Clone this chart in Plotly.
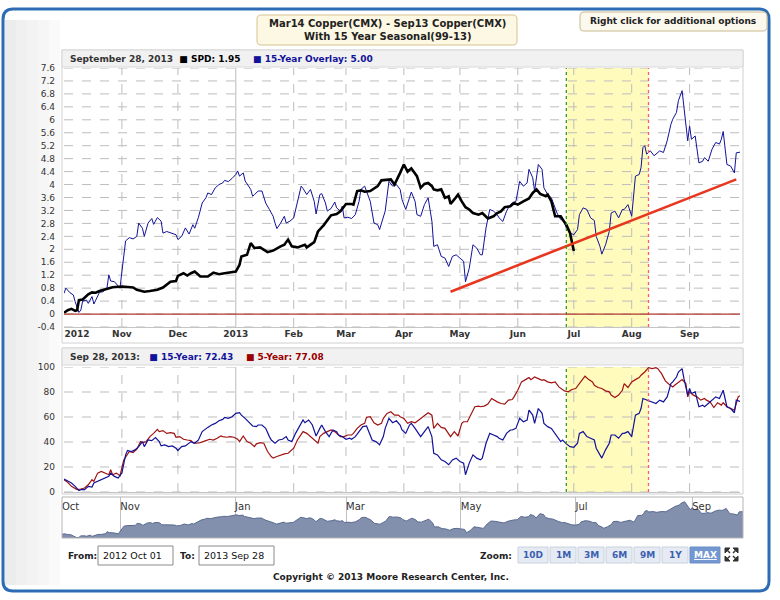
import pandas as pd
import plotly.graph_objects as go

W, H = 780, 600
START = pd.Timestamp("2012-10-01")
END = pd.Timestamp("2013-09-28")

# --- data (days counted from 2012-10-01) ---
# Mar14 - Sep13 copper spread (black)
spd_days = [0, 2, 4, 6, 7, 8, 10, 13, 15, 17,
            19, 23, 26, 31, 34, 37, 39, 43, 46, 50,
            53, 55, 57, 60, 61, 64, 66, 68, 70, 73,
            77, 80, 83, 86, 89, 92, 94, 95, 98, 100,
            102, 105, 109, 112, 116, 118, 120, 122, 125, 129,
            130, 134, 136, 139, 143, 146, 148, 151, 154, 155,
            157, 159, 161, 164, 168, 170, 175, 177, 180, 182,
            184, 186, 187, 189, 191, 193, 195, 197, 198, 200,
            202, 204, 206, 207, 209, 211, 213, 215, 217, 219,
            222, 224, 227, 230, 232, 234, 236, 239, 241, 243,
            246, 249, 251, 253, 255, 258, 259, 261, 263, 266,
            267, 269, 271, 272, 273]
spd_vals = [0.04, 0.12, 0.16, 0.10, 0.12, 0.43, 0.45, 0.61, 0.67, 0.66,
            0.71, 0.79, 0.83, 0.85, 0.83, 0.82, 0.75, 0.69, 0.71, 0.75,
            0.82, 0.90, 1.00, 1.02, 1.18, 1.26, 1.19, 1.26, 1.31, 1.16,
            1.16, 1.28, 1.23, 1.26, 1.29, 1.31, 1.52, 1.78, 1.83, 2.19,
            2.04, 2.06, 1.91, 1.96, 2.09, 2.14, 2.30, 2.09, 2.06, 2.14,
            2.06, 2.22, 2.55, 2.74, 3.05, 3.09, 3.17, 3.40, 3.40, 3.38,
            3.80, 3.82, 3.78, 3.80, 3.95, 4.13, 4.16, 4.00, 4.36, 4.62,
            4.40, 4.50, 4.42, 4.26, 3.90, 4.02, 4.05, 3.95, 3.85, 3.82,
            3.85, 3.59, 3.64, 3.40, 3.54, 3.69, 3.48, 3.30, 3.23, 3.12,
            3.07, 3.12, 2.95, 3.02, 3.12, 3.17, 3.30, 3.33, 3.43, 3.38,
            3.48, 3.57, 3.74, 3.85, 3.71, 3.64, 3.69, 3.48, 3.02, 3.02,
            2.92, 2.76, 2.50, 2.24, 1.95]

# 15-year seasonal overlay (blue, top panel + navigator)
ov_days = [0, 1, 3, 5, 6, 7, 8, 9, 10, 12,
           13, 15, 16, 17, 19, 21, 23, 24, 25, 27,
           29, 30, 31, 32, 33, 35, 37, 39, 40, 42,
           43, 45, 47, 48, 50, 52, 53, 55, 57, 60,
           61, 63, 65, 67, 69, 70, 72, 74, 76, 77,
           79, 81, 83, 85, 86, 88, 90, 92, 93, 94,
           96, 97, 100, 101, 102, 104, 106, 108, 110, 112,
           113, 114, 116, 118, 119, 121, 123, 125, 127, 128,
           130, 132, 134, 135, 137, 138, 140, 141, 143, 145,
           146, 148, 149, 150, 152, 154, 156, 158, 159, 161,
           163, 164, 166, 168, 169, 171, 172, 174, 176, 178,
           180, 181, 183, 185, 186, 188, 189, 191, 193, 195,
           197, 198, 200, 202, 204, 206, 208, 210, 212, 214,
           215, 217, 219, 221, 223, 224, 226, 228, 230, 232,
           233, 235, 237, 239, 240, 242, 244, 246, 248, 249,
           251, 252, 254, 256, 257, 259, 261, 264, 266, 267,
           269, 271, 273, 275, 276, 278, 280, 282, 284, 285,
           287, 288, 290, 292, 293, 295, 297, 299, 300, 302,
           304, 305, 306, 308, 309, 310, 311, 312, 314, 316,
           317, 319, 321, 323, 325, 326, 328, 329, 331, 332,
           334, 335, 336, 338, 340, 342, 343, 345, 347, 349,
           351, 352, 353, 355, 357, 359, 360, 362]
ov_vals = [0.64, 0.80, 0.67, 0.59, 0.38, 0.18, 0.05, 0.12, 0.40, 0.43,
           0.33, 0.54, 0.31, 0.43, 0.67, 0.69, 0.80, 1.21, 1.02, 1.00,
           0.85, 0.80, 1.31, 1.85, 2.26, 2.36, 2.32, 2.40, 2.81, 2.65,
           2.40, 2.81, 2.95, 2.77, 2.98, 2.87, 2.50, 2.55, 2.50, 2.45,
           2.30, 2.40, 2.66, 2.47, 2.76, 2.65, 2.99, 3.43, 3.59, 3.74,
           3.69, 3.90, 4.00, 4.05, 4.13, 4.09, 4.19, 4.31, 4.42, 4.26,
           4.36, 4.11, 3.85, 3.64, 3.69, 3.80, 3.80, 3.43, 3.23, 3.02,
           2.81, 2.64, 2.81, 3.02, 2.81, 2.87, 2.97, 3.48, 3.95, 3.88,
           3.69, 3.85, 3.48, 3.09, 3.69, 3.72, 3.43, 3.18, 3.26, 3.46,
           3.28, 3.18, 3.33, 2.97, 2.99, 2.95, 3.07, 3.48, 3.85, 3.95,
           3.64, 3.48, 2.81, 2.76, 2.61, 3.02, 3.18, 4.10, 3.95, 4.00,
           3.85, 3.54, 3.23, 3.59, 3.77, 3.48, 3.07, 3.02, 3.38, 3.59,
           2.87, 2.09, 2.14, 1.78, 1.73, 1.47, 1.78, 1.83, 1.73, 1.63,
           1.00, 1.41, 2.14, 2.04, 1.83, 1.83, 2.66, 3.23, 3.18, 3.07,
           2.97, 2.86, 3.18, 3.38, 3.43, 3.48, 4.10, 3.95, 4.05, 4.47,
           4.21, 3.80, 4.62, 4.47, 3.90, 3.69, 3.59, 3.12, 2.92, 2.97,
           2.66, 2.50, 2.45, 2.61, 3.07, 3.28, 3.23, 2.97, 2.89, 2.40,
           2.09, 1.85, 2.14, 2.55, 3.12, 3.18, 2.97, 3.23, 3.23, 3.38,
           3.02, 3.59, 4.26, 4.31, 4.52, 5.14, 5.20, 4.94, 5.04, 4.89,
           4.94, 5.04, 4.99, 5.35, 5.86, 6.02, 6.23, 6.59, 6.90, 6.38,
           5.35, 5.81, 5.40, 5.50, 4.67, 4.72, 4.83, 4.72, 5.09, 5.30,
           5.25, 5.40, 5.64, 4.62, 4.57, 4.36, 4.98, 5.00]

# seasonal index, 15-year (blue, lower panel)
b15_days = [0, 2, 4, 6, 8, 9, 11, 13, 15, 16,
            18, 20, 22, 24, 25, 27, 29, 31, 33, 34,
            36, 38, 40, 42, 43, 45, 47, 49, 51, 52,
            54, 56, 58, 60, 61, 63, 65, 67, 68, 70,
            72, 74, 76, 77, 79, 81, 83, 85, 86, 88,
            90, 92, 94, 95, 97, 99, 101, 103, 104, 106,
            108, 110, 111, 113, 115, 117, 119, 120, 122, 124,
            126, 128, 129, 131, 133, 135, 137, 138, 140, 142,
            144, 146, 147, 149, 151, 153, 154, 156, 158, 160,
            162, 163, 165, 167, 169, 171, 172, 174, 176, 178,
            180, 181, 183, 185, 186, 188, 191, 193, 195, 197,
            198, 200, 202, 204, 206, 208, 210, 212, 214, 215,
            217, 219, 221, 223, 224, 226, 228, 230, 232, 233,
            235, 237, 239, 240, 242, 244, 246, 248, 249, 251,
            252, 254, 256, 257, 259, 261, 264, 266, 267, 269,
            271, 273, 275, 276, 278, 280, 282, 284, 285, 287,
            288, 290, 292, 293, 295, 297, 299, 300, 302, 304,
            305, 306, 308, 309, 310, 312, 314, 316, 317, 319,
            321, 323, 325, 326, 328, 329, 331, 332, 334, 335,
            336, 338, 340, 342, 343, 345, 347, 349, 351, 352,
            353, 355, 357, 359, 360, 362]
b15_vals = [10.3, 8.5, 7.2, 4.5, 1.1, 1.9, 1.9, 4.5, 4.0, 7.2,
            8.5, 9.8, 11.1, 12.5, 15.1, 12.5, 11.1, 15.1, 29.7, 33.2,
            32.4, 33.7, 36.3, 40.3, 36.3, 41.6, 41.1, 43.5, 40.3, 36.9,
            37.7, 36.3, 36.9, 35.0, 33.2, 36.3, 36.9, 39.0, 40.3, 39.0,
            41.6, 48.3, 50.9, 51.7, 53.6, 54.9, 57.0, 58.1, 59.7, 58.9,
            60.2, 62.9, 63.4, 61.5, 58.9, 56.2, 52.8, 52.3, 53.6, 53.6,
            50.9, 44.3, 41.6, 39.0, 41.6, 42.2, 44.3, 41.6, 40.3, 46.9,
            52.3, 57.6, 55.4, 57.6, 53.6, 44.8, 50.9, 53.6, 48.3, 44.3,
            49.6, 48.3, 45.6, 44.3, 42.2, 43.0, 42.2, 44.3, 48.3, 52.3,
            52.8, 49.1, 41.6, 40.3, 37.7, 44.3, 50.9, 58.9, 55.4, 57.0,
            53.6, 49.6, 46.9, 53.6, 54.9, 50.9, 44.3, 48.3, 52.3, 44.3,
            31.0, 29.7, 25.7, 24.4, 21.8, 25.7, 27.1, 24.4, 23.1, 13.8,
            23.1, 29.7, 27.1, 25.7, 27.1, 39.0, 46.9, 45.6, 44.3, 43.0,
            41.6, 46.9, 49.6, 49.6, 50.9, 58.9, 56.2, 57.6, 65.5, 61.5,
            54.9, 66.8, 62.9, 54.9, 52.3, 50.9, 44.3, 40.3, 41.6, 38.5,
            36.3, 35.8, 39.0, 46.9, 48.3, 44.3, 43.0, 41.6, 35.0, 29.7,
            27.1, 33.7, 39.0, 45.6, 45.6, 43.0, 46.9, 46.9, 48.3, 44.3,
            52.3, 61.5, 62.9, 66.8, 74.8, 73.5, 72.1, 70.8, 70.8, 73.5,
            72.1, 76.1, 86.7, 88.1, 92.0, 96.0, 98.7, 90.7, 77.5, 82.8,
            78.8, 80.1, 68.2, 69.5, 68.2, 70.8, 73.5, 76.1, 74.8, 77.5,
            81.4, 68.2, 66.8, 63.4, 73.5, 72.43]

# seasonal index, 5-year (dark red, lower panel)
r5_days = [0, 2, 4, 6, 7, 9, 11, 13, 15, 16,
           18, 20, 22, 24, 25, 26, 28, 30, 32, 34,
           35, 37, 39, 41, 42, 44, 46, 48, 50, 51,
           53, 55, 57, 59, 60, 62, 64, 66, 68, 69,
           71, 73, 75, 76, 78, 80, 82, 84, 85, 87,
           89, 91, 93, 94, 96, 98, 100, 102, 103, 105,
           107, 109, 111, 112, 114, 116, 118, 120, 121, 123,
           125, 127, 128, 130, 132, 134, 136, 137, 139, 141,
           143, 145, 146, 148, 150, 152, 154, 155, 157, 159,
           161, 162, 164, 166, 168, 170, 171, 173, 175, 177,
           179, 180, 182, 184, 186, 188, 190, 191, 193, 195,
           197, 198, 200, 202, 204, 206, 207, 209, 211, 213,
           214, 216, 218, 220, 222, 223, 225, 227, 229, 231,
           232, 234, 236, 238, 240, 241, 243, 245, 247, 249,
           250, 252, 254, 256, 257, 259, 261, 263, 265, 266,
           268, 270, 272, 274, 275, 277, 279, 281, 283, 284,
           286, 288, 290, 292, 293, 295, 297, 299, 300, 302,
           304, 306, 308, 309, 311, 313, 315, 317, 318, 320,
           322, 324, 326, 327, 329, 331, 333, 334, 335, 337,
           339, 341, 343, 344, 346, 348, 350, 352, 353, 355,
           357, 359, 360, 361, 362]
r5_vals = [9.8, 7.7, 4.5, 3.2, 1.9, 2.4, 3.2, 5.8, 9.8, 8.5,
           15.1, 16.4, 15.1, 13.8, 17.8, 13.8, 15.1, 13.0, 25.7, 30.5,
           32.4, 31.6, 34.2, 40.3, 39.5, 40.3, 44.3, 46.9, 50.1, 48.3,
           49.1, 46.9, 47.5, 46.9, 43.8, 44.3, 42.2, 41.6, 41.1, 39.5,
           39.0, 39.5, 40.3, 41.1, 42.2, 41.6, 43.0, 44.8, 44.3, 43.8,
           44.3, 43.8, 42.2, 40.3, 44.8, 40.3, 39.0, 36.3, 38.5, 39.5,
           39.0, 32.4, 28.4, 27.1, 28.4, 29.7, 30.5, 31.0, 32.4, 35.0,
           41.6, 45.6, 48.3, 46.9, 44.3, 41.6, 39.0, 44.3, 46.9, 48.3,
           49.6, 48.3, 46.9, 44.3, 44.3, 45.6, 45.6, 46.9, 50.9, 53.6,
           54.9, 59.7, 60.2, 55.4, 53.6, 54.9, 58.9, 62.9, 64.2, 61.5,
           61.5, 60.2, 58.9, 54.9, 56.2, 55.4, 57.6, 58.9, 61.5, 63.4,
           61.5, 50.9, 54.9, 51.7, 50.9, 46.9, 44.3, 48.3, 44.8, 54.9,
           56.2, 56.2, 62.9, 68.2, 68.7, 68.2, 68.7, 70.3, 74.8, 72.9,
           72.1, 70.8, 70.3, 73.5, 74.0, 76.1, 81.4, 88.1, 89.9, 91.5,
           89.9, 92.0, 90.7, 89.4, 89.9, 88.1, 87.3, 88.1, 84.1, 82.8,
           80.9, 80.1, 82.0, 82.8, 84.6, 88.1, 92.6, 89.9, 88.1, 85.4,
           83.6, 82.8, 80.9, 80.1, 77.5, 75.6, 77.5, 81.4, 86.7, 83.6,
           88.1, 89.9, 91.5, 93.4, 96.0, 99.5, 98.7, 99.5, 98.7, 94.7,
           88.9, 86.2, 84.1, 85.4, 88.0, 90.0, 86.7, 76.1, 80.1, 77.5,
           76.1, 73.5, 74.8, 73.5, 72.1, 67.6, 71.4, 69.5, 71.4, 68.2,
           66.8, 65.5, 70.8, 76.1, 77.08]

trend_dates = ["2013-04-26", "2013-09-26"]
trend_vals = [0.69, 4.16]
window = ["2013-06-27", "2013-08-10"]   # green entry / red exit

month_grid = ["2012-11-01", "2012-12-01", "2013-01-01", "2013-02-01", "2013-03-01",
              "2013-04-01", "2013-05-01", "2013-06-01", "2013-07-01", "2013-08-01",
              "2013-09-01"]
top_tick_dates = ["2012-10-08"] + month_grid
top_tick_text = ["2012", "Nov", "Dec", "2013", "Feb", "Mar", "Apr", "May", "Jun",
                 "Jul", "Aug", "Sep"]
top_y_ticks = [-0.4, 0, 0.4, 0.8, 1.2, 1.6, 2, 2.4, 2.8, 3.2, 3.6, 4, 4.4, 4.8,
               5.2, 5.6, 6, 6.4, 6.8, 7.2, 7.6]
low_y_ticks = [0, 20, 40, 60, 80, 100]
nav_tick_dates = ["2012-10-01", "2012-11-01", "2013-01-01", "2013-03-01",
                  "2013-05-01", "2013-07-01", "2013-09-01"]
nav_tick_text = ["Oct", "Nov", "Jan", "Mar", "May", "Jul", "Sep"]
zoom_labels = ["10D", "1M", "3M", "6M", "9M", "1Y", "MAX"]


def to_dates(days):
    return START + pd.to_timedelta(days, unit="D")


def fx(x):
    return x / W


def fy(y):
    return 1 - y / H


def pt(x, y):
    return f"{fx(x):.5f},{fy(y):.5f}"


def rrect(x0, y0, x1, y1, r):
    return (f"M{pt(x0 + r, y0)} L{pt(x1 - r, y0)} Q{pt(x1, y0)} {pt(x1, y0 + r)} "
            f"L{pt(x1, y1 - r)} Q{pt(x1, y1)} {pt(x1 - r, y1)} L{pt(x0 + r, y1)} "
            f"Q{pt(x0, y1)} {pt(x0, y1 - r)} L{pt(x0, y0 + r)} Q{pt(x0, y0)} {pt(x0 + r, y0)} Z")


FONT = "DejaVu Sans"
NAVY = "#12129a"
DARKRED = "#a01212"
GRID = "#bdbdbd"

fig = go.Figure()
fig.add_trace(go.Scatter(x=to_dates(ov_days), y=ov_vals, xaxis="x", yaxis="y",
                         mode="lines", line=dict(color=NAVY, width=1)))
fig.add_trace(go.Scatter(x=to_dates(spd_days), y=spd_vals, xaxis="x", yaxis="y",
                         mode="lines", line=dict(color="black", width=2.6)))
fig.add_trace(go.Scatter(x=trend_dates, y=trend_vals, xaxis="x4", yaxis="y",
                         mode="lines", line=dict(color="#e8371f", width=2.6)))
fig.add_trace(go.Scatter(x=to_dates(r5_days), y=r5_vals, xaxis="x2", yaxis="y2",
                         mode="lines", line=dict(color=DARKRED, width=1.2)))
fig.add_trace(go.Scatter(x=to_dates(b15_days), y=b15_vals, xaxis="x2", yaxis="y2",
                         mode="lines", line=dict(color=NAVY, width=1.2)))
fig.add_trace(go.Scatter(x=to_dates(ov_days), y=ov_vals, xaxis="x3", yaxis="y3",
                         mode="lines", fill="tozeroy", fillcolor="#8290ae",
                         line=dict(color="#5a6a8f", width=1)))

xr = [START, END]
plot_x = [fx(64), fx(740)]
tickfont = dict(family=FONT, size=9, color="#333")
common = dict(automargin=False, zeroline=False, ticks="", showgrid=False)

fig.update_layout(
    width=W, height=H, margin=dict(l=0, r=0, t=0, b=0, autoexpand=False),
    paper_bgcolor="white", plot_bgcolor="rgba(0,0,0,0)",
    showlegend=False, hovermode=False,
    font=dict(family=FONT, color="#333"),
    xaxis=dict(common, domain=plot_x, anchor="y", range=xr, showticklabels=False,
               showline=True, linecolor="#c4c4c4"),
    xaxis4=dict(common, overlaying="x", anchor="y", range=xr, tickvals=top_tick_dates,
                ticktext=top_tick_text,
                tickfont=dict(family=FONT, size=9, color="#333", weight="bold")),
    yaxis=dict(common, domain=[fy(327), fy(68)], anchor="x", range=[-0.4, 7.6],
               tickvals=top_y_ticks, ticktext=[f"{v:g}" for v in top_y_ticks],
               ticklabelstandoff=8, tickfont=tickfont),
    xaxis2=dict(common, domain=plot_x, anchor="y2", range=xr, showticklabels=False,
                showline=True, linecolor="#c4c4c4"),
    yaxis2=dict(common, domain=[fy(492), fy(367)], anchor="x2", range=[0, 100],
                tickvals=low_y_ticks, ticklabelstandoff=8, tickfont=tickfont),
    xaxis3=dict(common, domain=[fx(62), fx(743)], anchor="y3", range=xr,
                tickvals=nav_tick_dates, ticktext=nav_tick_text, side="top",
                ticklabelposition="inside right", showgrid=True,
                gridcolor="#c0c0c0",
                tickfont=dict(family=FONT, size=10, color="#333")),
    yaxis3=dict(common, domain=[fy(538), fy(497)], anchor="x3", range=[0, 7.8],
                visible=False),
)

shapes = []


def box(x0, y0, x1, y1, fill, line="rgba(0,0,0,0)", width=1, layer="below"):
    shapes.append(dict(type="rect", xref="paper", yref="paper", layer=layer,
                       x0=fx(x0), x1=fx(x1), y0=fy(y1), y1=fy(y0),
                       fillcolor=fill, line=dict(color=line, width=width)))


# outer frame with light gradient on the left
shapes.append(dict(type="path", xref="paper", yref="paper", layer="below",
                   path=rrect(3, 9, 769, 591, 10), fillcolor="rgba(0,0,0,0)",
                   line=dict(color="#2d6cb5", width=3)))
for i, c in enumerate(["#ececec", "#f0f0f0", "#f3f3f3", "#f6f6f6", "#fafafa"]):
    box(5 + 11 * i, 20, 16 + 11 * i, 585, c, c, 0)

# panel borders and header strips
box(62, 50, 743, 343, "rgba(0,0,0,0)", "#d0d0d0")
box(62, 50, 743, 67, "#f1f1f1", "#d8d8d8")
box(62, 348, 743, 494, "rgba(0,0,0,0)", "#d0d0d0")
box(62, 348, 743, 365, "#f1f1f1", "#d8d8d8")

# seasonal window, dashed grid and entry/exit lines in both panels
for xa, ya, yt in (("x", "y", top_y_ticks), ("x2", "y2", low_y_ticks)):
    shapes.append(dict(type="rect", xref=xa, yref=f"{ya} domain", layer="below",
                       x0=window[0], x1=window[1], y0=0, y1=1,
                       fillcolor="#fffbbd", line=dict(width=0)))
    for v in yt:
        shapes.append(dict(type="line", xref=f"{xa} domain", yref=ya, layer="below",
                           x0=0, x1=1, y0=v, y1=v,
                           line=dict(color=GRID, width=1, dash="dash")))
    for d in month_grid:
        solid = d.endswith("01-01")
        shapes.append(dict(type="line", xref=xa, yref=f"{ya} domain", layer="below",
                           x0=d, x1=d, y0=0, y1=1,
                           line=dict(color="#bbbbbb" if solid else GRID, width=1,
                                     dash="solid" if solid else "dash")))
    shapes.append(dict(type="line", xref=xa, yref=f"{ya} domain", layer="above",
                       x0=window[0], x1=window[0], y0=0, y1=1,
                       line=dict(color="#2e9b2e", width=1.3, dash="dot")))
    shapes.append(dict(type="line", xref=xa, yref=f"{ya} domain", layer="above",
                       x0=window[1], x1=window[1], y0=0, y1=1,
                       line=dict(color="#ff5c5c", width=1.3, dash="dot")))

# zero line of the spread panel
shapes.append(dict(type="line", xref="x domain", yref="y", layer="above",
                   x0=0, x1=1, y0=0, y1=0, line=dict(color="#b0382f", width=1.2)))

# navigator border
box(62, 497, 743, 538, "rgba(0,0,0,0)", "#b4b4b4", layer="above")

# title and hint boxes
shapes.append(dict(type="path", xref="paper", yref="paper", layer="below",
                   path=rrect(257, 15, 517, 45, 4), fillcolor="#fdf8e3",
                   line=dict(color="#d5c38f", width=1)))
shapes.append(dict(type="path", xref="paper", yref="paper", layer="below",
                   path=rrect(580, 12, 767, 31, 4), fillcolor="#fbf8ee",
                   line=dict(color="#c8b98f", width=1)))

# date inputs
box(98, 546, 173, 565, "white", "#8a8a8a")
box(199, 546, 274, 565, "white", "#8a8a8a")

annotations = []


def label(x, y, text, size=9, color="#333", anchor="center", bold=True):
    annotations.append(dict(xref="paper", yref="paper", x=fx(x), y=fy(y),
                            xanchor=anchor, yanchor="middle", showarrow=False,
                            text=f"<b>{text}</b>" if bold else text,
                            font=dict(family=FONT, size=size, color=color)))


# zoom buttons
bx = 518
for lab in zoom_labels:
    w = 30 if len(lab) == 3 else 26
    active = lab == "MAX"
    box(bx, 547, bx + w, 563, "#7397d1" if active else "#e6ebf3",
        "#6d8fc6" if active else "#c9d1de")
    label(bx + w / 2, 555, f"<u>{lab}</u>" if active else lab,
          color="white" if active else "#3c5fb0")
    bx += w + 2

# full-screen icon
icon = " ".join([
    f"M{pt(725, 548)} L{pt(730, 548)} L{pt(725, 553)} Z",
    f"M{pt(738, 548)} L{pt(733, 548)} L{pt(738, 553)} Z",
    f"M{pt(725, 561)} L{pt(730, 561)} L{pt(725, 556)} Z",
    f"M{pt(738, 561)} L{pt(733, 561)} L{pt(738, 556)} Z",
])
shapes.append(dict(type="path", xref="paper", yref="paper", layer="above", path=icon,
                   fillcolor="#333", line=dict(color="#333", width=1)))
for (x0, y0, x1, y1) in ((726, 549, 730, 553), (737, 549, 733, 553),
                         (726, 560, 730, 556), (737, 560, 733, 556)):
    shapes.append(dict(type="line", xref="paper", yref="paper", layer="above",
                       x0=fx(x0), y0=fy(y0), x1=fx(x1), y1=fy(y1),
                       line=dict(color="#333", width=1.5)))

label(387, 30, "Mar14 Copper(CMX) - Sep13 Copper(CMX)<br>With 15 Year Seasonal(99-13)",
      size=10, color="#222")
label(673, 21, "Right click for additional options", size=9, color="#222")

last_day = END.strftime("%B %d, %Y").replace(" 0", " ")
label(68, 58.5,
      f"{last_day}&nbsp;&nbsp;<span style='color:#000'>■ SPD: {spd_vals[-1]:.2f}</span>"
      f"&nbsp;&nbsp;&nbsp;&nbsp;<span style='color:{NAVY}'>■ 15-Year Overlay: {ov_vals[-1]:.2f}</span>",
      anchor="left")
label(68, 357,
      f"{END.strftime('%b %d, %Y')}:&nbsp;&nbsp;&nbsp;<span style='color:{NAVY}'>■ 15-Year: {b15_vals[-1]:.2f}</span>"
      f"&nbsp;&nbsp;&nbsp;&nbsp;<span style='color:#990000'>■ 5-Year: {r5_vals[-1]:.2f}</span>",
      anchor="left")

label(66, 555.5, "From:", anchor="left", color="#222")
label(101, 555.5, START.strftime("%Y %b %d"), size=9.5, anchor="left", bold=False, color="#111")
label(178, 555.5, "To:", anchor="left", color="#222")
label(202, 555.5, END.strftime("%Y %b %d"), size=9.5, anchor="left", bold=False, color="#111")
label(514, 555.5, "Zoom:", anchor="right", color="#222")
label(391, 577, "Copyright © 2013 Moore Research Center, Inc.", color="#222")

fig.update_layout(shapes=shapes, annotations=annotations)
fig.write_html("out.html", config={"displayModeBar": False},
               post_script="document.body.style.margin='0';"
                           "document.body.style.overflow='hidden';")
